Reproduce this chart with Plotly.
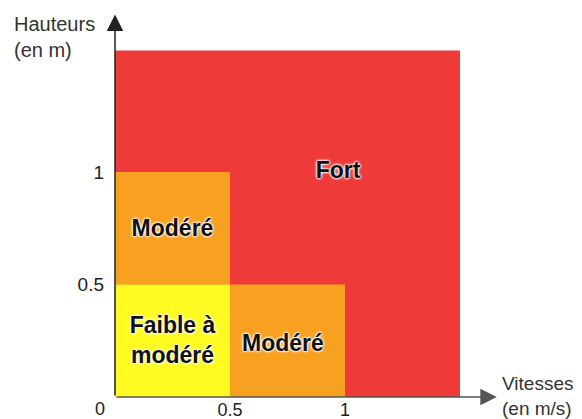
import plotly.graph_objects as go

# Zone data (vitesse x hauteur grid)
zone_names = ["Fort", "Modéré", "Modéré", "Faible à modéré"]
zone_x0 = [0.0, 0.0, 0.5, 0.0]
zone_x1 = [1.5, 0.5, 1.0, 0.5]
zone_y0 = [0.0, 0.5, 0.0, 0.0]
zone_y1 = [1.54, 1.0, 0.5, 0.5]
zone_colors = ["#EE3B3A", "#F8A01F", "#F8A01F", "#FFFB22"]

label_text = ["Fort", "Modéré", "Faible à<br>modéré", "Modéré"]
label_x = [0.97, 0.25, 0.25, 0.73]
label_y = [1.0, 0.74, 0.245, 0.23]

tick_vals = [0.5, 1]
tick_text = ["0.5", "1"]

FONT = "Liberation Sans, Arial, sans-serif"

fig = go.Figure()

for x0, x1, y0, y1, c in zip(zone_x0, zone_x1, zone_y0, zone_y1, zone_colors):
    fig.add_shape(type="rect", x0=x0, x1=x1, y0=y0, y1=y1, xref="x", yref="y",
                  fillcolor=c, line=dict(width=0), layer="below")

fig.add_trace(go.Scatter(
    x=label_x, y=label_y, mode="text", text=label_text,
    textposition="middle center",
    textfont=dict(family=FONT, size=23, color="#111111", weight="bold",
                  shadow="0 0 2px white, 0 0 2px white, 0 0 3px white, 0 0 3px white"),
    hoverinfo="skip", showlegend=False, cliponaxis=False))

# axis arrows
fig.add_annotation(x=1.66, y=0, ax=0, ay=0, xref="x", yref="y", axref="x", ayref="y",
                   showarrow=True, arrowhead=2, arrowsize=2.2, arrowwidth=1.5,
                   arrowcolor="#555555", text="")
fig.add_annotation(x=0, y=1.70, ax=0, ay=0, xref="x", yref="y", axref="x", ayref="y",
                   showarrow=True, arrowhead=2, arrowsize=2.2, arrowwidth=1.5,
                   arrowcolor="#222222", text="")

fig.add_annotation(x=-0.2206, y=0.907, xref="paper", yref="paper", text="Hauteurs<br>(en m)",
                   showarrow=False, xanchor="left", yanchor="middle", align="left",
                   font=dict(family=FONT, size=20, color="#333333"))
fig.add_annotation(x=0.8244, y=0.003, xref="paper", yref="paper", text="Vitesses<br>(en m/s)",
                   showarrow=False, xanchor="left", yanchor="middle", align="left",
                   font=dict(family=FONT, size=19, color="#333333"))
fig.add_annotation(x=-0.032, y=-0.029, xref="paper", yref="paper", text="0",
                   showarrow=False, xanchor="center", yanchor="middle",
                   font=dict(family=FONT, size=18, color="#222222"))

fig.update_layout(
    width=582, height=419,
    margin=dict(l=115, r=0, t=0, b=22, autoexpand=False),
    paper_bgcolor="white", plot_bgcolor="white",
    xaxis=dict(range=[0, 467 / 230], showgrid=False, zeroline=False, showline=False,
               automargin=False, tickvals=tick_vals, ticktext=tick_text, ticks="",
               tickfont=dict(family=FONT, size=18, color="#222222")),
    yaxis=dict(range=[0, 397 / 225], showgrid=False, zeroline=False, showline=False,
               automargin=False, tickvals=tick_vals, ticktext=tick_text, ticks="",
               ticklabelstandoff=10,
               tickfont=dict(family=FONT, size=19, color="#222222")),
)

fig.write_html("out.html",
               config={"displayModeBar": False},
               post_script="document.body.style.margin='0px';document.body.style.overflow='hidden';")
